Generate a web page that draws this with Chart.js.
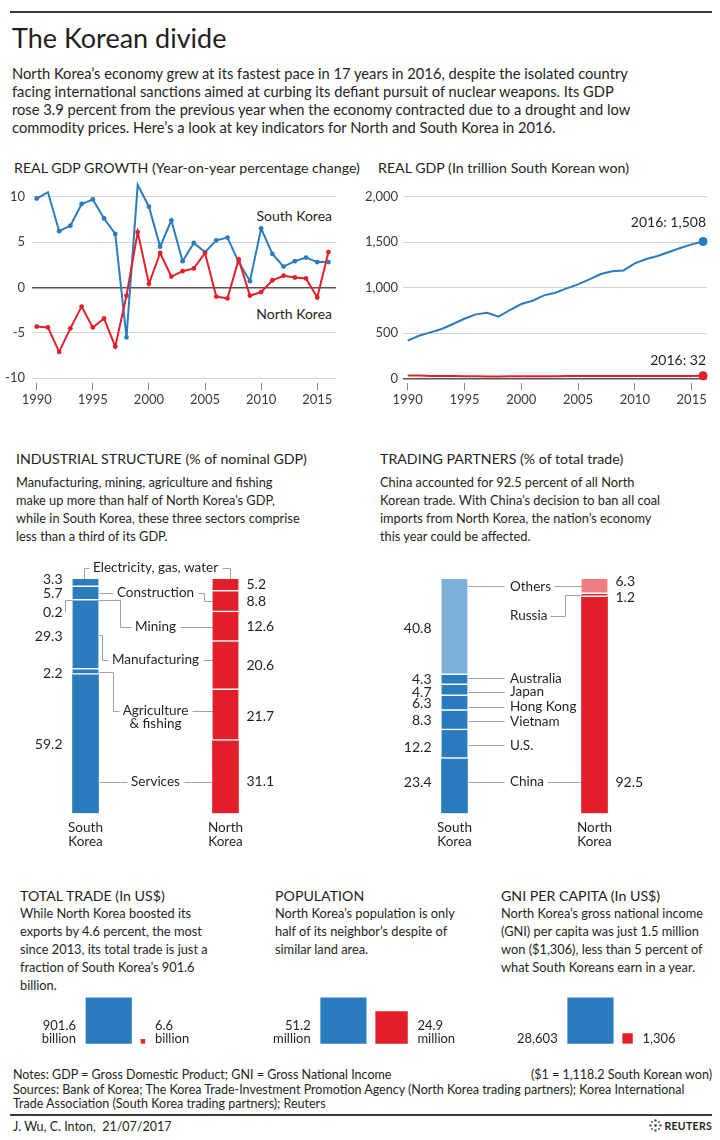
<!DOCTYPE html>
<html>
<head>
<meta charset="utf-8">
<title>The Korean divide</title>
<script src="https://cdn.jsdelivr.net/npm/chart.js@4.4.0/dist/chart.umd.min.js"></script>
<style>
  html, body { margin: 0; padding: 0; background: #fff; }
  body { width: 720px; height: 1140px; position: relative; overflow: hidden;
         font-family: Lato, "Open Sans", sans-serif; color: #231f20; }
  .t { position: absolute; white-space: nowrap; }
  .h { font-size: 14.2px; line-height: 18px; }
  .p { font-size: 12.8px; line-height: 18px; }
  .f { font-size: 12.5px; line-height: 14px; }
  .rule { position: absolute; left: 10px; width: 702px; height: 2px; background: #3c3c3c; }
  canvas { position: absolute; }
</style>
</head>
<body>

<div class="rule" style="top:11px"></div>
<div class="t" style="left:12px; top:22px; font-size:27px; line-height:32px;">The Korean divide</div>
<div class="t" style="left:12px; top:63.7px; font-size:14.7px; line-height:18px;">North Korea’s economy grew at its fastest pace in 17 years in 2016, despite the isolated country<br>facing international sanctions aimed at curbing its defiant pursuit of nuclear weapons. Its GDP<br>rose 3.9 percent from the previous year when the economy contracted due to a drought and low<br>commodity prices. Here’s a look at key indicators for North and South Korea in 2016.</div>

<div class="t h" style="left:14px; top:159.3px;">REAL GDP GROWTH (Year-on-year percentage change)</div>
<div class="t h" style="left:378px; top:159.3px;">REAL GDP (In trillion South Korean won)</div>
<div class="t" style="right:388px; top:206px; font-size:14px; line-height:19px; text-align:right;">South Korea</div>
<div class="t" style="right:388px; top:304px; font-size:14px; line-height:19px; text-align:right;">North Korea</div>

<div class="t h" style="left:16px; top:450px;">INDUSTRIAL STRUCTURE (% of nominal GDP)</div>
<div class="t p" style="left:16px; top:473px;">Manufacturing, mining, agriculture and fishing<br>make up more than half of North Korea’s GDP,<br>while in South Korea, these three sectors comprise<br>less than a third of its GDP.</div>
<div class="t h" style="left:380px; top:450px;">TRADING PARTNERS (% of total trade)</div>
<div class="t p" style="left:380px; top:473px;">China accounted for 92.5 percent of all North<br>Korean trade. With China’s decision to ban all coal<br>imports from North Korea, the nation’s economy<br>this year could be affected.</div>

<div class="t h" style="left:20px; top:886.7px;">TOTAL TRADE (In US$)</div>
<div class="t p" style="left:20px; top:904.3px;">While North Korea boosted its<br>exports by 4.6 percent, the most<br>since 2013, its total trade is just a<br>fraction of South Korea’s 901.6<br>billion.</div>
<div class="t h" style="left:275px; top:886.7px;">POPULATION</div>
<div class="t p" style="left:275px; top:904.3px;">North Korea’s population is only<br>half of its neighbor’s despite of<br>similar land area.</div>
<div class="t h" style="left:501px; top:886.7px;">GNI PER CAPITA (In US$)</div>
<div class="t p" style="left:501px; top:904.3px;">North Korea’s gross national income<br>(GNI) per capita was just 1.5 million<br>won ($1,306), less than 5 percent of<br>what South Koreans earn in a year.</div>

<div class="t f" style="left:13px; top:1068px;">Notes: GDP = Gross Domestic Product; GNI = Gross National Income</div>
<div class="t f" style="right:8px; top:1068px; text-align:right;">($1 = 1,118.2 South Korean won)</div>
<div class="t f" style="left:13px; top:1083px;">Sources: Bank of Korea; The Korea Trade-Investment Promotion Agency (North Korea trading partners); Korea International<br>Trade Association (South Korea trading partners); Reuters</div>
<div class="rule" style="top:1114px; height:1.5px;"></div>
<div class="t f" style="left:13px; top:1119.5px;">J. Wu, C. Inton,&nbsp; 21/07/2017</div>
<div class="t" style="right:8px; top:1119px; font-size:10.5px; line-height:14px; font-weight:bold; letter-spacing:0.3px;">
  <svg width="13" height="13" viewBox="0 0 13 13" style="vertical-align:-2px; margin-right:2px;">
    <g fill="#555"><circle cx="6.5" cy="1.5" r="1.2"/><circle cx="6.5" cy="11.5" r="1.2"/><circle cx="1.5" cy="6.5" r="1.2"/><circle cx="11.5" cy="6.5" r="1.2"/>
    <circle cx="3" cy="3" r="1"/><circle cx="10" cy="3" r="1"/><circle cx="3" cy="10" r="1"/><circle cx="10" cy="10" r="1"/><circle cx="6.5" cy="6.5" r="1.4"/></g>
  </svg>REUTERS</div>

<canvas id="growth" width="360" height="230" style="left:0; top:180px; width:360px; height:230px;"></canvas>
<canvas id="realgdp" width="355" height="230" style="left:365px; top:180px; width:355px; height:230px;"></canvas>
<canvas id="industry" width="360" height="300" style="left:0; top:555px; width:360px; height:300px;"></canvas>
<canvas id="partners" width="360" height="300" style="left:360px; top:555px; width:360px; height:300px;"></canvas>
<canvas id="trade" width="240" height="65" style="left:0; top:985px; width:240px; height:65px;"></canvas>
<canvas id="population" width="240" height="65" style="left:240px; top:985px; width:240px; height:65px;"></canvas>
<canvas id="gni" width="240" height="65" style="left:480px; top:985px; width:240px; height:65px;"></canvas>

<script>
// ---------- data ----------
const years = [1990, 1991, 1992, 1993, 1994, 1995, 1996, 1997, 1998, 1999, 2000, 2001, 2002,
  2003, 2004, 2005, 2006, 2007, 2008, 2009, 2010, 2011, 2012, 2013, 2014, 2015, 2016];
const yearTicks = [1990, 1995, 2000, 2005, 2010, 2015];

// real GDP growth, % year on year
const growthSouth = [9.8, 10.5, 6.2, 6.8, 9.2, 9.7, 7.6, 5.9, -5.5, 11.3, 8.9, 4.5, 7.4,
  2.9, 4.9, 3.9, 5.2, 5.5, 2.8, 0.7, 6.5, 3.7, 2.3, 2.9, 3.3, 2.8, 2.8];
const growthNorth = [-4.3, -4.4, -7.1, -4.5, -2.1, -4.4, -3.4, -6.5, -0.9, 6.1, 0.4, 3.8, 1.2,
  1.8, 2.1, 3.8, -1.0, -1.2, 3.1, -0.9, -0.5, 0.8, 1.3, 1.1, 1.0, -1.1, 3.9];
const growthTicks = [-10, -5, 0, 5, 10];

// real GDP, trillion won
const gdpSouth = [418, 472, 509, 546, 601, 659, 707, 725, 681, 755, 821, 857, 916,
  945, 993, 1037, 1092, 1150, 1180, 1190, 1267, 1315, 1348, 1392, 1436, 1476, 1508];
const gdpNorth = [35, 34, 31, 30, 29, 28, 27, 25, 25, 26, 27, 28, 28,
  28, 29, 30, 30, 29, 30, 30, 30, 30, 31, 31, 31, 31, 32];
const gdpTicks = [0, 500, 1000, 1500, 2000];

const countries = ['South Korea', 'North Korea'];

// industrial structure, % of nominal GDP (top to bottom)
const sectors = ['Electricity, gas, water', 'Construction', 'Mining', 'Manufacturing',
  ['Agriculture', '& fishing'], 'Services'];
const industrySouth = [3.3, 5.7, 0.2, 29.3, 2.2, 59.2];
const industryNorth = [5.2, 8.8, 12.6, 20.6, 21.7, 31.1];

// trading partners, % of total trade (top to bottom)
const partners = ['Others', 'Russia', 'Australia', 'Japan', 'Hong Kong', 'Vietnam', 'U.S.', 'China'];
const partnersSouth = [40.8, null, 4.3, 4.7, 6.3, 8.3, 12.2, 23.4];
const partnersNorth = [6.3, 1.2, null, null, null, null, null, 92.5];

const totalTrade = [901.6, 6.6];      // US$ billion
const population = [51.2, 24.9];      // million
const gniPerCapita = [28603, 1306];   // US$

// ---------- styles ----------
const BLUE = '#2b7bbf', RED = '#e3202a', LIGHT_BLUE = '#7db1da', LIGHT_RED = '#ee7c83';
const INK = '#231f20', LEADER = '#a2a2a2', TICK = '#3a3a3a';
const FONT = 'Lato, "Open Sans", sans-serif';
Chart.defaults.font.family = FONT;
Chart.defaults.color = TICK;

const quiet = { legend: { display: false }, tooltip: { enabled: false } };

function points(values) {
  return years.map((y, i) => ({ x: y, y: values[i] }));
}
function fixedTicks(list) {
  return scale => { scale.ticks = list.map(v => ({ value: v })); };
}

function timeAxis(min, max) {
  return {
    type: 'linear', min, max,
    afterBuildTicks: fixedTicks(yearTicks),
    afterFit: s => { s.height = 26.7; },
    border: { display: false },
    grid: { drawOnChartArea: false, tickLength: 7, color: '#8c8c8c' },
    ticks: { maxRotation: 0, padding: 2, font: { size: 13 }, callback: v => String(v) }
  };
}
function valueAxis(min, max, list, width, pad) {
  return {
    min, max,
    afterBuildTicks: fixedTicks(list),
    afterFit: s => { s.width = width; },
    border: { display: false },
    grid: { drawTicks: false,
            color: c => c.tick.value === 0 ? '#555' : '#d4d4d4',
            lineWidth: c => c.tick.value === 0 ? 1.5 : 1 },
    ticks: { padding: pad, font: { size: 13 }, callback: v => v.toLocaleString('en-US') }
  };
}

// ---------- real GDP growth ----------
new Chart(document.getElementById('growth'), {
  type: 'line',
  data: {
    datasets: [
      { label: 'North Korea', data: points(growthNorth), borderColor: RED, backgroundColor: RED,
        borderWidth: 2, pointRadius: 2.4, pointBorderWidth: 0, tension: 0, clip: false },
      { label: 'South Korea', data: points(growthSouth), borderColor: BLUE, backgroundColor: BLUE,
        borderWidth: 2, pointRadius: 2.4, pointBorderWidth: 0, tension: 0, clip: false }
    ]
  },
  options: {
    responsive: false, animation: false, events: [],
    plugins: quiet,
    layout: { padding: { top: 16.7, right: 24, left: 0, bottom: 0 } },
    scales: {
      x: timeAxis(1989.58, 2016.67),
      y: valueAxis(-10.55, 10, growthTicks, 32, 7)
    }
  }
});

// ---------- real GDP ----------
const endLabels = {
  id: 'endLabels',
  afterDatasetsDraw(chart) {
    const ctx = chart.ctx;
    const lift = [15, 18.5];
    ctx.save();
    ctx.font = '14px ' + FONT;
    ctx.fillStyle = INK;
    ctx.textAlign = 'right';
    ctx.textBaseline = 'middle';
    chart.data.datasets.forEach((ds, i) => {
      const pts = chart.getDatasetMeta(i).data;
      const p = pts[pts.length - 1];
      const last = ds.data[ds.data.length - 1];
      ctx.fillText(last.x + ': ' + last.y.toLocaleString('en-US'), p.x + 3, p.y - lift[i]);
    });
    ctx.restore();
  }
};

const lastDot = c => c.dataIndex === years.length - 1 ? 4.5 : 0;

new Chart(document.getElementById('realgdp'), {
  type: 'line',
  data: {
    datasets: [
      { label: 'North Korea', data: points(gdpNorth), borderColor: RED, backgroundColor: RED,
        borderWidth: 2, pointRadius: lastDot, pointBorderWidth: 0, tension: 0, clip: false },
      { label: 'South Korea', data: points(gdpSouth), borderColor: BLUE, backgroundColor: BLUE,
        borderWidth: 2, pointRadius: lastDot, pointBorderWidth: 0, tension: 0, clip: false }
    ]
  },
  options: {
    responsive: false, animation: false, events: [],
    plugins: quiet,
    layout: { padding: { top: 16.7, right: 13, left: 0, bottom: 0 } },
    scales: {
      x: timeAxis(1989.59, 2016.35),
      y: valueAxis(-50.5, 2000, gdpTicks, 38, 5)
    }
  },
  plugins: [endLabels]
});

// ---------- stacked 100% columns with leader lines ----------
function path(ctx, pts) {
  ctx.beginPath();
  pts.forEach((p, k) => {
    const x = Math.round(p[0]) + 0.5, y = Math.round(p[1]) + 0.5;
    if (k) ctx.lineTo(x, y); else ctx.moveTo(x, y);
  });
  ctx.stroke();
}

function panelGeometry(chart, names, layout) {
  const ctx = chart.ctx;
  const xs = chart.scales.x, ys = chart.scales.y;
  const x0 = xs.getPixelForValue(0), x1 = xs.getPixelForValue(1);
  const barTop = ys.getPixelForValue(0);
  ctx.font = '13.5px ' + FONT;
  return names.map((name, i) => {
    const lines = [].concat(name);
    const seg = [0, 1].map(j => {
      const v = chart.data.datasets[i].data[j];
      if (v == null) return null;
      const el = chart.getDatasetMeta(i).data[j];
      const top = Math.min(el.y, el.base), bot = Math.max(el.y, el.base);
      return { x: el.x, left: el.x - el.width / 2, right: el.x + el.width / 2, top, bot, mid: (top + bot) / 2, v };
    });
    const spec = layout.items[i];
    const y = spec.y[0] === 'top' ? barTop + spec.y[1]
      : seg[spec.y[0] === 'sk' ? 0 : 1].mid + spec.y[1];
    const w = Math.max(...lines.map(l => ctx.measureText(l).width));
    const left = layout.align === 'center' ? (x0 + x1) / 2 - w / 2 : x0 + 13 + layout.labelOffset;
    return { lines, seg, y, left, right: left + w, spec, cx: (x0 + x1) / 2 };
  });
}

function panelPlugin(names, layout) {
  return {
    id: 'panelLabels',
    beforeDatasetsDraw(chart) {
      const ctx = chart.ctx;
      const g = panelGeometry(chart, names, layout);
      ctx.save();
      ctx.strokeStyle = LEADER;
      ctx.lineWidth = 1;
      g.forEach(it => {
        const sk = it.seg[0], nk = it.seg[1], s = it.spec, y = it.y;
        const a = it.left - layout.gapSk, b = it.right + layout.gapNk;
        if (s.sk === 'straight') path(ctx, [[sk.right, y], [a, y]]);
        if (s.sk === 'elbow') {
          const ex = it.left - layout.skElbow;
          path(ctx, [[sk.right, sk.mid], [ex, sk.mid], [ex, y], [a, y]]);
        }
        if (s.sk === 'bracket') path(ctx, [[sk.x - 2, sk.top], [sk.x - 2, y], [a, y]]);
        if (s.sk === 'fromLeft') {
          const ex = it.left - layout.skElbow - 5, lx = sk.left - 8;
          path(ctx, [[lx, sk.mid + s.skVal], [lx, sk.mid], [ex, sk.mid], [ex, y], [a, y]]);
        }
        if (s.nk === 'straight') path(ctx, [[b, y], [nk.left, y]]);
        if (s.nk === 'elbow') {
          const ex = it.right + layout.nkElbow;
          path(ctx, [[b, y], [ex, y], [ex, nk.mid], [nk.left, nk.mid]]);
        }
        if (s.nk === 'bracket') path(ctx, [[b, y], [nk.x + 4, y], [nk.x + 4, nk.top]]);
      });
      ctx.restore();
    },
    afterDatasetsDraw(chart) {
      const ctx = chart.ctx;
      const g = panelGeometry(chart, names, layout);
      ctx.save();
      ctx.fillStyle = INK;
      ctx.textBaseline = 'middle';
      g.forEach(it => {
        ctx.font = '13.5px ' + FONT;
        ctx.textAlign = layout.align;
        it.lines.forEach((l, k) => ctx.fillText(l, layout.align === 'center' ? it.cx : it.left, it.y + k * 12.5));
        ctx.font = '14px ' + FONT;
        const sk = it.seg[0], nk = it.seg[1], s = it.spec;
        if (sk) {
          ctx.textAlign = 'right';
          const vy = s.skVal === 'label' ? it.y : sk.mid + s.skVal;
          ctx.fillText(sk.v.toFixed(1), sk.left - 10, vy);
        }
        if (nk) {
          ctx.textAlign = 'left';
          const vy = s.nkVal === 'label' ? it.y : nk.mid + s.nkVal;
          ctx.fillText(nk.v.toFixed(1), nk.right + 8, vy);
        }
      });
      // country names under the columns
      const bottom = chart.scales.y.getPixelForValue(100);
      ctx.font = '13.5px ' + FONT;
      ctx.textAlign = 'center';
      countries.forEach((c, j) => {
        const x = chart.scales.x.getPixelForValue(j);
        c.split(' ').forEach((w, k) => ctx.fillText(w, x, bottom + 14.7 + k * 13.4));
      });
      ctx.restore();
    }
  };
}

function stackPanel(id, names, south, north, colors, layout, padding) {
  new Chart(document.getElementById(id), {
    type: 'bar',
    data: {
      labels: countries,
      datasets: names.map((n, i) => ({
        label: [].concat(n).join(' '),
        data: [south[i], north[i]],
        backgroundColor: colors(i),
        borderColor: '#fff',
        borderWidth: i < names.length - 1 ? { top: 0, left: 0, right: 0, bottom: 1.5 } : 0,
        borderSkipped: false,
        barThickness: 26
      }))
    },
    options: {
      responsive: false, animation: false, events: [],
      plugins: quiet,
      layout: { padding },
      scales: {
        x: { display: false, stacked: true },
        y: { display: false, stacked: true, min: 0, max: 100, reverse: true }
      }
    },
    plugins: [panelPlugin(names, layout)]
  });
}

stackPanel('industry', sectors, industrySouth, industryNorth,
  () => [BLUE, RED],
  {
    align: 'center', gapSk: 4, gapNk: 4, skElbow: 10, nkElbow: 10,
    items: [
      { y: ['top', -11.3], sk: 'bracket', nk: 'bracket', skVal: -3, nkVal: -1 },
      { y: ['sk', -0.7], sk: 'straight', nk: 'elbow', skVal: 0, nkVal: 0 },
      { y: ['nk', 0], sk: 'fromLeft', nk: 'straight', skVal: 12, nkVal: 0 },
      { y: ['nk', -5.5], sk: 'elbow', nk: 'straight', skVal: 2, nkVal: 0 },
      { y: ['nk', -4.3], sk: 'elbow', nk: 'straight', skVal: 1.5, nkVal: 1 },
      { y: ['nk', 4.8], sk: 'straight', nk: 'straight', skVal: 1, nkVal: 'label' }
    ]
  },
  { left: 15.5, right: 64.5, top: 24, bottom: 41.7 });

stackPanel('partners', partners, partnersSouth, partnersNorth,
  i => i === 0 ? [LIGHT_BLUE, LIGHT_RED] : [BLUE, RED],
  {
    align: 'left', labelOffset: 42.5, gapSk: 6, gapNk: 3, skElbow: 10, nkElbow: 18,
    items: [
      { y: ['nk', -0.1], sk: 'straight', nk: 'straight', skVal: 2, nkVal: -4.7 },
      { y: ['nk', 20.5], sk: null, nk: 'elbow', skVal: 0, nkVal: 2.5 },
      { y: ['sk', -1.3], sk: 'straight', skVal: 0 },
      { y: ['sk', 1.8], sk: 'straight', skVal: 2 },
      { y: ['sk', 3.7], sk: 'straight', skVal: 0.3 },
      { y: ['sk', 1], sk: 'straight', skVal: 0.7 },
      { y: ['sk', 1], sk: 'straight', skVal: 3.7 },
      { y: ['sk', -3.9], sk: 'straight', nk: 'straight', skVal: -3.9, nkVal: 'label' }
    ]
  },
  { left: 24.5, right: 55.5, top: 24, bottom: 41.7 });

// ---------- area-proportional squares ----------
const SIDE = 45.5, GAP = 9.5, BASE = 1043.3, CTOP = 985, CH = 65, CW = 240;

const squareLabels = {
  id: 'squareLabels',
  afterDatasetsDraw(chart, args, opts) {
    const ctx = chart.ctx;
    ctx.save();
    ctx.font = '13px ' + FONT;
    ctx.fillStyle = INK;
    ctx.textBaseline = 'middle';
    chart.data.datasets.forEach((ds, i) => {
      const el = chart.getDatasetMeta(i).data[i];
      const lines = opts.text(i);
      ctx.textAlign = i === 0 ? 'right' : 'left';
      const x = i === 0 ? el.x - el.width / 2 - 10 : el.x + el.width / 2 + 10;
      lines.forEach((l, k) => ctx.fillText(l, x, el.base - 4.5 - (lines.length - 1 - k) * 13.3));
    });
    ctx.restore();
  }
};

function squarePanel(id, values, text, skLeft, canvasLeft) {
  const side = values.map(v => SIDE * Math.sqrt(v / values[0]));
  const c1 = skLeft + side[0] / 2, c2 = skLeft + side[0] + GAP + side[1] / 2;
  const w = 2 * (c2 - c1);
  const left = c1 - w / 4 - canvasLeft;
  new Chart(document.getElementById(id), {
    type: 'bar',
    data: {
      labels: countries,
      datasets: [
        { label: countries[0], data: [Math.sqrt(values[0]), null], backgroundColor: BLUE,
          barThickness: side[0], grouped: false, clip: false },
        { label: countries[1], data: [null, Math.sqrt(values[1])], backgroundColor: RED,
          barThickness: side[1], grouped: false, clip: false }
      ]
    },
    options: {
      responsive: false, animation: false, events: [],
      plugins: Object.assign({ squareLabels: { text: i => text(values[i]) } }, quiet),
      layout: { padding: { left, right: CW - left - w, top: BASE - SIDE - CTOP, bottom: CTOP + CH - BASE } },
      scales: {
        x: { display: false },
        y: { display: false, min: 0, max: Math.sqrt(values[0]) }
      }
    },
    plugins: [squareLabels]
  });
}

squarePanel('trade', totalTrade, v => [String(v), 'billion'], 86, 0);
squarePanel('population', population, v => [String(v), 'million'], 320.7, 240);
squarePanel('gni', gniPerCapita, v => [v.toLocaleString('en-US')], 567.7, 480);
</script>
</body>
</html>
